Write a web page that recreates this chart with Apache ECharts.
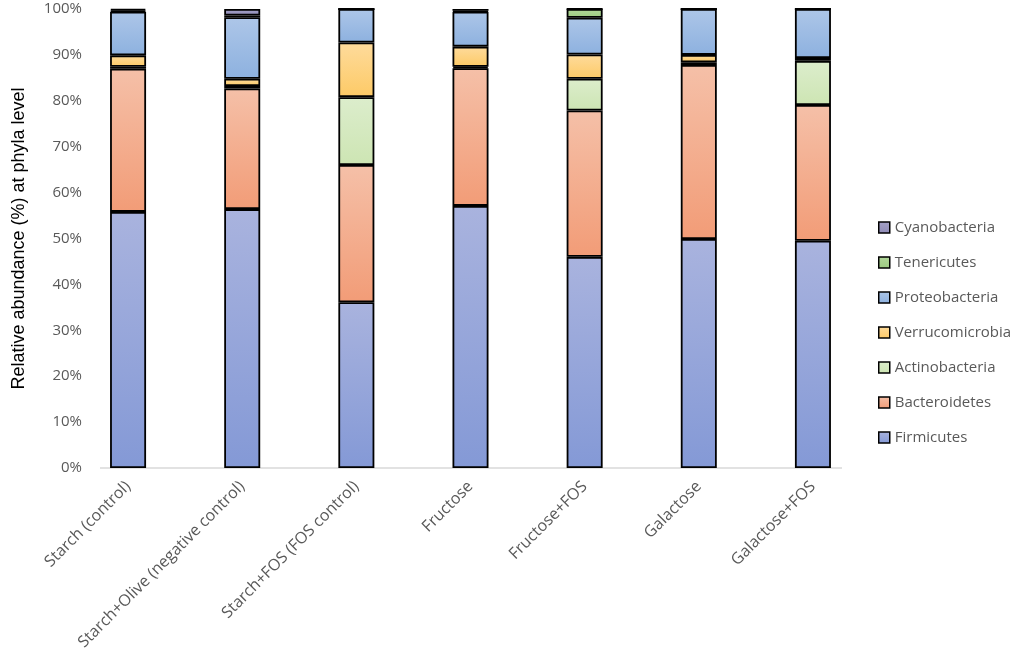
<!DOCTYPE html>
<html>
<head>
<meta charset="utf-8">
<script src="https://cdn.jsdelivr.net/npm/echarts@6/dist/echarts.min.js"></script>
<style>
  html, body { margin: 0; padding: 0; background: #fff; }
  #chart { width: 1021px; height: 668px; }
</style>
</head>
<body>
<div id="chart"></div>
<script>
const groups = [
  'Starch (control)',
  'Starch+Olive (negative control)',
  'Starch+FOS (FOS control)',
  'Fructose',
  'Fructose+FOS',
  'Galactose',
  'Galactose+FOS',
]

// values in %, stacked bottom to top
const firmicutes = [55.8, 56.4, 36.1, 57.1, 46.0, 49.9, 49.5]
const bacteroidetes = [31.2, 26.3, 29.9, 30.0, 31.9, 37.9, 29.6]
const actinobacteria = [0.4, 0.5, 14.8, 0.3, 6.9, 0.6, 9.6]
const verrucomicrobia = [2.5, 1.6, 11.9, 4.4, 5.3, 1.6, 0.6]
const proteobacteria = [9.5, 13.4, 7.3, 7.6, 8.0, 10.0, 10.7]
const tenericutes = [0.3, 0.4, 0, 0.2, 1.9, 0, 0]
const cyanobacteria = [0.3, 1.4, 0, 0.4, 0, 0, 0]

const yTicks = [0, 10, 20, 30, 40, 50, 60, 70, 80, 90, 100]

const phyla = [
  { name: 'Firmicutes', data: firmicutes, top: '#a9b3de', bottom: '#8499d6' },
  { name: 'Bacteroidetes', data: bacteroidetes, top: '#f5c0a8', bottom: '#f29c77' },
  { name: 'Actinobacteria', data: actinobacteria, top: '#dcedcc', bottom: '#cde5b3' },
  { name: 'Verrucomicrobia', data: verrucomicrobia, top: '#fedb9c', bottom: '#fdca66' },
  { name: 'Proteobacteria', data: proteobacteria, top: '#adc6e8', bottom: '#8db1df' },
  { name: 'Tenericutes', data: tenericutes, top: '#b3d89b', bottom: '#9ccb80' },
  { name: 'Cyanobacteria', data: cyanobacteria, top: '#a4a1c6', bottom: '#8f8bb6' },
]

const chart = echarts.init(document.getElementById('chart'))

const labelFont = "'Open Sans', 'DejaVu Sans', sans-serif"

chart.setOption({
  animation: false,
  grid: { left: 71, right: 151, top: 9, bottom: 200 },
  legend: {
    orient: 'vertical',
    left: 873,
    top: 215,
    icon: 'rect',
    itemWidth: 11,
    itemHeight: 11,
    itemGap: 20,
    data: phyla.map((p) => p.name).reverse(),
    textStyle: { color: '#595959', fontSize: 15, fontFamily: labelFont },
    itemStyle: { borderColor: '#000', borderWidth: 1.5 },
  },
  xAxis: {
    type: 'category',
    data: groups,
    axisLine: { show: false },
    axisTick: { show: false },
    axisLabel: {
      interval: 0,
      rotate: 45,
      margin: 16,
      color: '#595959',
      fontSize: 16,
      fontFamily: labelFont,
    },
  },
  yAxis: {
    type: 'value',
    min: yTicks[0],
    max: yTicks[yTicks.length - 1],
    interval: 10,
    offset: -19,
    name: 'Relative abundance (%) at phyla level',
    nameLocation: 'middle',
    nameGap: 62,
    nameTextStyle: {
      color: '#000',
      fontSize: 18,
      fontFamily: "'Liberation Sans', Arial, sans-serif",
    },
    axisLine: { show: false },
    axisTick: { show: false },
    splitLine: { show: false },
    axisLabel: {
      formatter: '{value}%',
      margin: 8,
      color: '#595959',
      fontSize: 15,
      fontFamily: labelFont,
    },
  },
  graphic: [
    {
      type: 'line',
      shape: { x1: 100, y1: 468, x2: 842, y2: 468 },
      style: { stroke: '#d9d9d9', lineWidth: 1.5 },
      z: 1,
    },
  ],
  series: phyla.map((p) => ({
    name: p.name,
    type: 'bar',
    stack: 'total',
    barWidth: 36,
    data: p.data,
    itemStyle: {
      color: new echarts.graphic.LinearGradient(0, 0, 0, 1, [
        { offset: 0, color: p.top },
        { offset: 1, color: p.bottom },
      ]),
      borderColor: '#000',
      borderWidth: 1.8,
    },
    z: 3,
  })),
})

window.addEventListener('resize', () => {
  chart.resize()
})
</script>
</body>
</html>
